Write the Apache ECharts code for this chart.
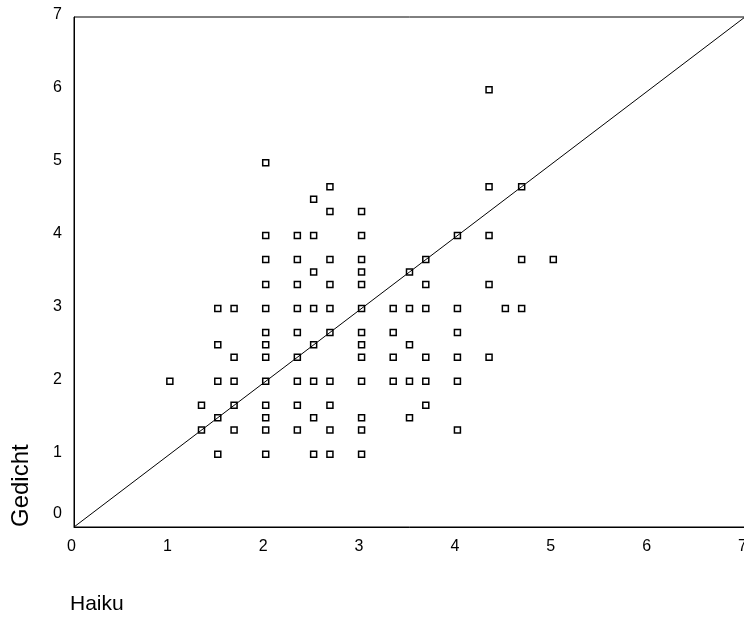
<!DOCTYPE html>
<html>
<head>
<meta charset="utf-8">
<script src="https://cdn.jsdelivr.net/npm/echarts@6/dist/echarts.min.js"></script>
<style>
  html, body { margin: 0; padding: 0; background: #fff; }
  #chart { width: 744px; height: 619px; }
</style>
</head>
<body>
<div id="chart"></div>
<script>
// Mean ratings per respondent: Haiku (x) against Gedicht (y)
const haikuScores = [
  4.33,
  2,
  2.67, 4.33, 4.67,
  2.5,
  2.67, 3,
  2, 2.33, 2.5, 3, 4, 4.33,
  2, 2.33, 2.67, 3, 3.67, 4.67, 5,
  2.5, 3, 3.5,
  2, 2.33, 2.67, 3, 3.67, 4.33,
  1.5, 1.67, 2, 2.33, 2.5, 2.67, 3, 3.33, 3.5, 3.67, 4, 4.5, 4.67,
  2, 2.33, 2.67, 3, 3.33, 4,
  1.5, 2, 2.5, 3, 3.5,
  1.67, 2, 2.33, 3, 3.33, 3.67, 4, 4.33,
  1, 1.5, 1.67, 2, 2.33, 2.5, 2.67, 3, 3.33, 3.5, 3.67, 4,
  1.33, 1.67, 2, 2.33, 2.67, 3.67,
  1.5, 2, 2.5, 3, 3.5,
  1.33, 1.67, 2, 2.33, 2.67, 3, 4,
  1.5, 2, 2.5, 2.67, 3
];
const gedichtScores = [
  6,
  5,
  4.67, 4.67, 4.67,
  4.5,
  4.33, 4.33,
  4, 4, 4, 4, 4, 4,
  3.67, 3.67, 3.67, 3.67, 3.67, 3.67, 3.67,
  3.5, 3.5, 3.5,
  3.33, 3.33, 3.33, 3.33, 3.33, 3.33,
  3, 3, 3, 3, 3, 3, 3, 3, 3, 3, 3, 3, 3,
  2.67, 2.67, 2.67, 2.67, 2.67, 2.67,
  2.5, 2.5, 2.5, 2.5, 2.5,
  2.33, 2.33, 2.33, 2.33, 2.33, 2.33, 2.33, 2.33,
  2, 2, 2, 2, 2, 2, 2, 2, 2, 2, 2, 2,
  1.67, 1.67, 1.67, 1.67, 1.67, 1.67,
  1.5, 1.5, 1.5, 1.5, 1.5,
  1.33, 1.33, 1.33, 1.33, 1.33, 1.33, 1.33,
  1, 1, 1, 1, 1
];
// Identity reference line y = x
const identityLine = [[0, 0], [7, 7]];
const axisMin = 0, axisMax = 7, axisStep = 1;
const xTitle = 'Haiku';
const yTitle = 'Gedicht';

const points = haikuScores.map((h, i) => [h, gedichtScores[i]]);

const font = 'Arial, "Liberation Sans", sans-serif';
const tickSize = 16;
const chart = echarts.init(document.getElementById('chart'), null, { renderer: 'canvas' });

chart.setOption({
  backgroundColor: '#fff',
  animation: false,
  grid: {
    left: 74, top: 17, right: -1, bottom: 92,
    outerBoundsMode: 'none',
    show: true, borderColor: '#000', borderWidth: 1, backgroundColor: 'transparent'
  },
  xAxis: {
    type: 'value', min: axisMin, max: axisMax, interval: axisStep,
    axisLine: { show: true, lineStyle: { color: '#000', width: 1 } },
    axisTick: { show: false },
    splitLine: { show: false },
    axisLabel: { color: '#000', fontFamily: font, fontSize: tickSize, margin: 12,
      showMaxLabel: true, hideOverlap: false, padding: [0, 5, 0, 0] }
  },
  yAxis: {
    type: 'value', min: axisMin, max: axisMax, interval: axisStep,
    axisLine: { show: true, lineStyle: { color: '#000', width: 1 } },
    axisTick: { show: false },
    splitLine: { show: false },
    axisLabel: {
      color: '#000', fontFamily: font, fontSize: tickSize, margin: 12,
      showMaxLabel: true, hideOverlap: false,
      formatter: v => v === 0 ? '{z|0}' : '{n|' + v + '}',
      rich: {
        z: { color: '#000', fontFamily: font, fontSize: tickSize, padding: [0, 0, 26, 0] },
        n: { color: '#000', fontFamily: font, fontSize: tickSize, padding: [0, 0, 4, 0] }
      }
    }
  },
  graphic: [
    { type: 'text', left: 70, top: 594,
      style: { text: xTitle, fill: '#000', font: '21px ' + font } },
    { type: 'text', x: 9, y: 527, rotation: Math.PI / 2,
      style: { text: yTitle, fill: '#000', font: '24px ' + font, textAlign: 'left', textVerticalAlign: 'top' } }
  ],
  series: [
    {
      type: 'line', data: identityLine, symbol: 'none', silent: true, z: 1,
      lineStyle: { color: '#000', width: 1 }
    },
    {
      type: 'scatter', data: points, symbol: 'rect', symbolSize: 6, z: 2,
      itemStyle: { color: 'rgba(255,255,255,0)', borderColor: '#000', borderWidth: 1.5, opacity: 1 }
    }
  ]
});
</script>
</body>
</html>
